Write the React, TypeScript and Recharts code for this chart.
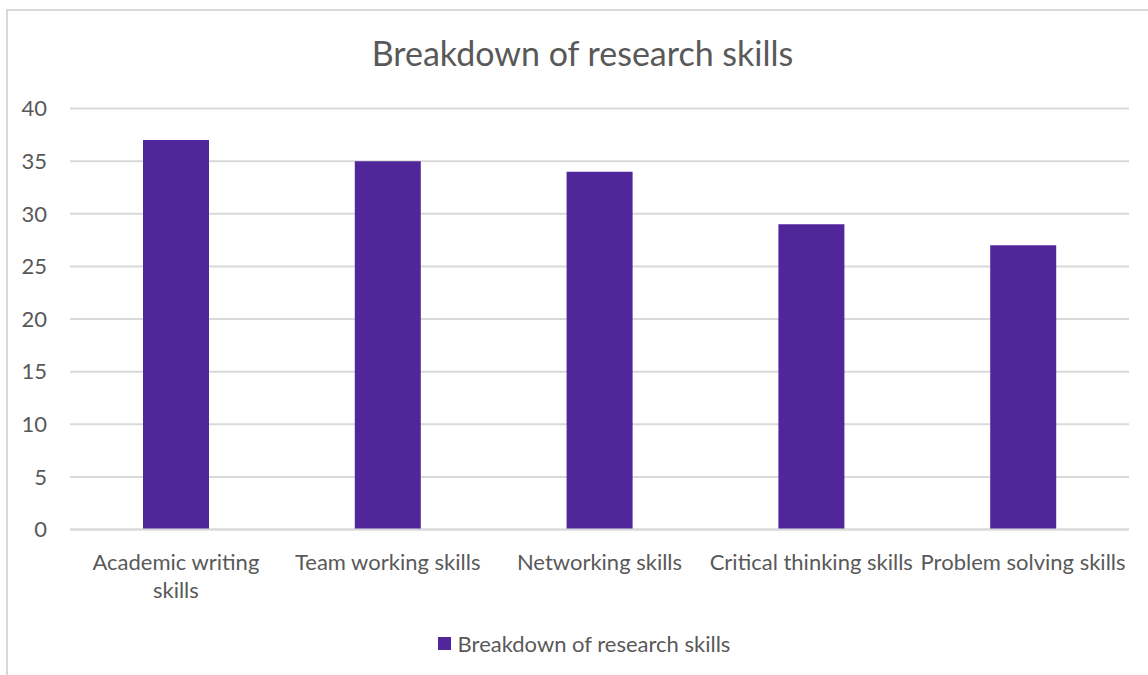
import React from "react";
import { BarChart, Bar, XAxis, YAxis, CartesianGrid, Legend } from "recharts";

const categories = [
  "Academic writing skills",
  "Team working skills",
  "Networking skills",
  "Critical thinking skills",
  "Problem solving skills",
];
const seriesValues = [37, 35, 34, 29, 27];
const yTicks = [0, 5, 10, 15, 20, 25, 30, 35, 40];
const seriesName = "Breakdown of research skills";
const titleText = "Breakdown of research skills";

const data = categories.map((c, i) => ({ name: c, value: seriesValues[i] }));

const FONT = "Lato, 'Open Sans', sans-serif";
const TEXT = "#595959";
const PURPLE = "#51269A";
const TICK_FS = 22;

let ctx: CanvasRenderingContext2D | null = null;
const measure = (s: string) => {
  if (!ctx) {
    const c = document.createElement("canvas");
    ctx = c.getContext("2d");
  }
  if (!ctx) return s.length * TICK_FS * 0.5;
  ctx.font = `${TICK_FS}px Lato`;
  return ctx.measureText(s).width;
};

const wrap = (label: string, maxW: number) => {
  const words = label.split(" ");
  const lines: string[] = [];
  let cur = "";
  words.forEach((w) => {
    const t = cur ? cur + " " + w : w;
    if (cur && measure(t) > maxW) {
      lines.push(cur);
      cur = w;
    } else cur = t;
  });
  if (cur) lines.push(cur);
  return lines;
};

const CategoryTick = (props: any) => {
  const { x, y, payload } = props;
  const lines = wrap(String(payload.value), 212);
  return (
    <text x={x} y={y + 32} textAnchor="middle" fill={TEXT} fontSize={TICK_FS} fontFamily={FONT}>
      {lines.map((l, i) => (
        <tspan key={i} x={x} dy={i === 0 ? 0 : 28}>
          {l}
        </tspan>
      ))}
    </text>
  );
};

const LegendContent = () => (
  <div style={{ display: "flex", justifyContent: "center", alignItems: "center", fontFamily: FONT, fontSize: 22, color: TEXT }}>
    <span style={{ width: 13, height: 13, background: PURPLE, display: "inline-block", marginRight: 7 }} />
    <span>{seriesName}</span>
  </div>
);

export default function App() {
  return (
    <div style={{ position: "absolute", left: 0, top: 0, width: 1148, height: 675, overflow: "hidden", background: "#fff" }}>
      <div style={{ position: "absolute", left: 6, top: 9, width: 1160, height: 700, border: "2px solid #d9d9d9", boxSizing: "border-box" }} />
      <div style={{ position: "absolute", left: 0, width: 1165, top: 32, textAlign: "center", fontFamily: FONT, fontSize: 34, color: TEXT }}>
        {titleText}
      </div>
      <div style={{ position: "absolute", left: 0, top: 0 }}>
        <BarChart width={1148} height={675} data={data} margin={{ top: 108.5, right: 19, bottom: 115.5, left: 8 }} barSize={66}>
          <CartesianGrid vertical={false} stroke="#d9d9d9" strokeWidth={2} />
          <XAxis dataKey="name" height={30} axisLine={{ stroke: "#d9d9d9", strokeWidth: 2 }} tickLine={false} interval={0} tick={<CategoryTick />} />
          <YAxis
            width={62}
            domain={[0, 40]}
            ticks={yTicks}
            axisLine={false}
            tickLine={false}
            tickSize={0}
            tickMargin={23}
            tick={{ fill: TEXT, fontSize: 22, fontFamily: FONT }}
          />
          <Legend
            verticalAlign="middle"
            layout="horizontal"
            content={<LegendContent />}
            wrapperStyle={{ top: 630, left: 0, width: 1168 }}
          />
          <Bar dataKey="value" name={seriesName} fill={PURPLE} isAnimationActive={false} />
        </BarChart>
      </div>
    </div>
  );
}
